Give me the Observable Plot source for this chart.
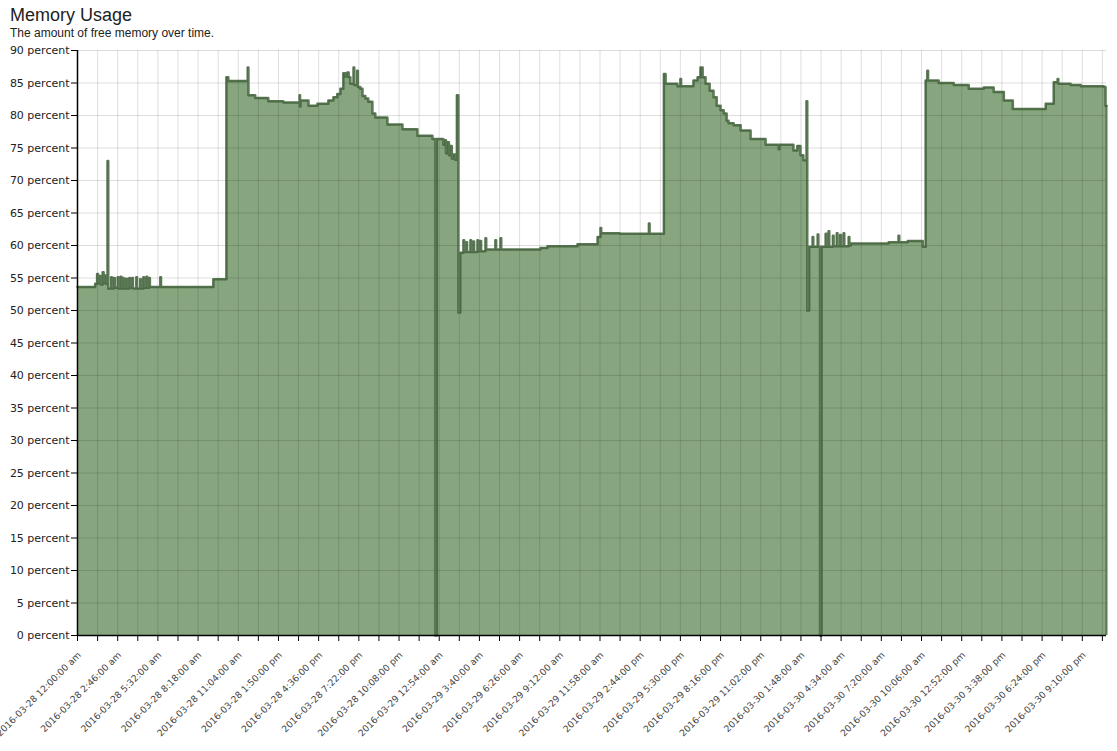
<!DOCTYPE html>
<html>
<head>
<meta charset="utf-8">
<script src="https://cdn.jsdelivr.net/npm/d3@7"></script>
<script src="https://cdn.jsdelivr.net/npm/@observablehq/plot@0.6"></script>
<style>
  body { margin: 0; background: #fff; }
  #head { height: 42px; padding-left: 10px; font-family: "Liberation Sans", Arial, sans-serif; color: #222; }
  #head .t { font-size: 18px; padding-top: 5px; line-height: 21px; }
  #head .s { font-size: 12px; line-height: 14px; margin-top: 0px; }
  #chart svg { display: block; }
</style>
</head>
<body>
<div id="head"><div class="t">Memory Usage</div><div class="s">The amount of free memory over time.</div></div>
<div id="chart"></div>
<script>
// minutes after 2016-03-28 12:00:00 am
const minutes = [
  0, 73, 81, 85, 92, 96, 104, 108, 115, 119, 124, 127, 139, 142, 150, 154, 166, 169, 178, 181,
  188, 191, 201, 204, 214, 217, 226, 229, 243, 246, 259, 262, 272, 275, 285, 288, 296, 299, 342, 345,
  561, 615, 623, 703, 706, 734, 788, 850, 917, 919, 921, 954, 991, 1036, 1057, 1073, 1086, 1098, 1106, 1114,
  1120, 1127, 1140, 1143, 1155, 1158, 1168, 1177, 1189, 1201, 1218, 1230, 1280, 1342, 1404, 1466, 1478, 1484, 1511, 1516,
  1522, 1528, 1534, 1540, 1546, 1552, 1560, 1567, 1573, 1581,
  1594, 1597, 1606, 1609, 1623, 1626, 1635, 1638, 1652, 1655, 1664, 1667, 1685, 1688, 1726, 1729, 1747, 1750, 1912, 1941,
  2065, 2148, 2160, 2163, 2240, 2360, 2363, 2422, 2429, 2478, 2490, 2493, 2544, 2561, 2573, 2582, 2594, 2611, 2627, 2640,
  2656, 2669, 2681, 2689, 2710, 2739, 2780, 2842, 2896, 2899, 2957, 2973, 2986, 2998, 3011, 3014, 3022,
  3036, 3039, 3057, 3060, 3067, 3073, 3090, 3093, 3102, 3105, 3120, 3123, 3136, 3139, 3150, 3153, 3164, 3167, 3185, 3188,
  3194, 3350, 3391, 3394, 3429, 3491, 3503, 3510, 3513, 3557, 3619, 3681, 3743, 3784, 3826, 3863, 3999, 4032, 4048, 4051,
  4102, 4144, 4239, 4246, 4250
];
const freePct = [
  53.6, 54.1, 55.6, 54.2, 55.3, 54.0, 55.9, 54.2, 55.4, 54.1, 73.0, 53.4, 55.1, 53.4, 55.0, 53.5, 55.1, 53.4, 55.2, 53.4,
  55.0, 53.4, 54.9, 53.4, 55.0, 53.5, 55.0, 53.4, 55.1, 53.4, 54.8, 53.4, 55.1, 53.5, 55.2, 53.5, 55.0, 53.6, 55.1, 53.6,
  54.8, 85.9, 85.3, 87.4, 83.1, 82.7, 82.2, 82.0, 83.1, 81.4, 82.3, 81.5, 81.8, 82.3, 82.8, 83.3, 84.1, 86.5, 86.0, 86.6,
  85.9, 84.9, 87.4, 84.7, 86.9, 84.4, 84.1, 83.0, 82.6, 82.1, 80.3, 79.7, 78.6, 77.9, 76.9, 76.4, 0, 76.4, 75.5, 76.2,
  74.2, 75.9, 73.9, 75.3, 73.4, 74.0, 73.2, 83.1, 49.7, 58.9,
  60.8, 59.0, 60.5, 59.0, 60.8, 59.0, 60.6, 59.0, 60.8, 59.1, 60.7, 59.1, 61.1, 59.4, 60.8, 59.4, 61.1, 59.4, 59.6, 59.9,
  60.2, 61.3, 62.7, 61.9, 61.8, 63.4, 61.8, 86.4, 84.9, 84.5, 85.6, 84.5, 85.4, 85.9, 87.4, 85.9, 84.9, 83.8, 82.8, 81.5,
  80.8, 80.3, 79.2, 78.8, 78.5, 77.7, 76.4, 75.5, 74.8, 75.5, 74.6, 75.3, 73.9, 73.1, 82.2, 50.0, 59.8,
  61.3, 59.8, 61.7, 59.8, 0, 59.8, 61.8, 59.8, 62.2, 59.8, 61.5, 59.9, 61.9, 59.9, 61.6, 59.9, 61.9, 59.9, 61.3, 60.0,
  60.3, 60.5, 61.5, 60.5, 60.7, 59.8, 85.4, 86.9, 85.4, 85.0, 84.7, 84.1, 84.3, 83.6, 82.3, 81.0, 81.8, 85.1, 85.6, 84.9,
  84.7, 84.5, 84.4, 81.5, 81.5
];
const tickLabels = [
  "2016-03-28 12:00:00 am", "2016-03-28 2:46:00 am", "2016-03-28 5:32:00 am", "2016-03-28 8:18:00 am",
  "2016-03-28 11:04:00 am", "2016-03-28 1:50:00 pm", "2016-03-28 4:36:00 pm", "2016-03-28 7:22:00 pm",
  "2016-03-28 10:08:00 pm", "2016-03-29 12:54:00 am", "2016-03-29 3:40:00 am", "2016-03-29 6:26:00 am",
  "2016-03-29 9:12:00 am", "2016-03-29 11:58:00 am", "2016-03-29 2:44:00 pm", "2016-03-29 5:30:00 pm",
  "2016-03-29 8:16:00 pm", "2016-03-29 11:02:00 pm", "2016-03-30 1:48:00 am", "2016-03-30 4:34:00 am",
  "2016-03-30 7:20:00 am", "2016-03-30 10:06:00 am", "2016-03-30 12:52:00 pm", "2016-03-30 3:38:00 pm",
  "2016-03-30 6:24:00 pm", "2016-03-30 9:10:00 pm"
];
const yTicks = [0, 5, 10, 15, 20, 25, 30, 35, 40, 45, 50, 55, 60, 65, 70, 75, 80, 85, 90];

const start = Date.UTC(2016, 2, 28, 0, 0);
const data = minutes.map((m, i) => ({date: new Date(start + m * 60000), value: freePct[i]}));
const parse = d3.utcParse("%Y-%m-%d %I:%M:%S %p");
const tickDates = tickLabels.map(parse);
const labelByTime = new Map(tickDates.map((d, i) => [+d, tickLabels[i]]));
const half = (+tickDates[1] - +tickDates[0]) / 2;
const minorDates = tickDates.map(d => new Date(+d + half));
const gridDates = tickDates.concat(minorDates);
const domainX = [data[0].date, data[data.length - 1].date];

const fillColor = "#87a67f";
const lineColor = "#42623b";

const chart = Plot.plot({
  width: 1117,
  height: 709,
  marginTop: 8,
  marginLeft: 77,
  marginRight: 11,
  marginBottom: 116,
  style: {fontFamily: "'DejaVu Sans', sans-serif", fontSize: "11px", color: "#333", background: "#fff"},
  x: {type: "utc", domain: domainX},
  y: {domain: [0, 90]},
  marks: [
    Plot.areaY(data, {x: "date", y: "value", curve: "step-after", fill: fillColor}),
    Plot.gridY(yTicks, {stroke: "#000", strokeOpacity: 0.13}),
    Plot.gridX(gridDates, {stroke: "#000", strokeOpacity: 0.13}),
    Plot.lineY(data, {x: "date", y: "value", curve: "step-after", stroke: lineColor, strokeWidth: 2.5, strokeOpacity: 0.85}),
    Plot.ruleX(data.slice(-1), {x: "date", y1: 0, y2: "value", stroke: lineColor, strokeWidth: 2, strokeOpacity: 0.85}),
    Plot.axisY(yTicks, {tickFormat: d => `${d} percent`, tickSize: 6, tickPadding: 2, label: null, stroke: "#000",
      fontSize: 11, fontFamily: "DejaVu Sans", fill: "#222"}),
    Plot.axisX(tickDates, {tickFormat: d => labelByTime.get(+d), tickRotate: -45, tickSize: 0, tickPadding: 9,
      label: null, fontSize: 9.2, fontFamily: "DejaVu Sans", fill: "#444", dx: 2, dy: 9}),
    Plot.axisX(gridDates, {tickFormat: () => "", tickSize: 6, label: null, stroke: "#000"}),
    Plot.ruleY([0], {stroke: "#000", strokeWidth: 1.5}),
    Plot.ruleX(domainX.slice(0, 1), {stroke: "#000", strokeWidth: 1.5})
  ]
});
document.getElementById("chart").appendChild(chart);
</script>
</body>
</html>
